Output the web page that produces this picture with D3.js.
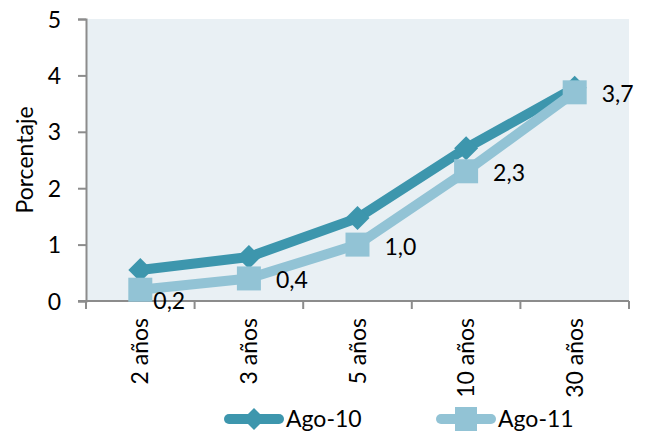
<!DOCTYPE html>
<html><head><meta charset="utf-8">
<script src="https://cdn.jsdelivr.net/npm/d3@7"></script>
<style>body{margin:0;background:#fff}svg{display:block}text{font-family:Lato,"Open Sans",sans-serif;fill:#000}</style>
</head><body><svg id="c" width="650" height="433"></svg>
<script>
const categories = ["2 años","3 años","5 años","10 años","30 años"];
const ago10 = [0.55, 0.78, 1.47, 2.71, 3.78];
const ago11 = [0.2, 0.4, 1.0, 2.3, 3.7];
const ago11Labels = ["0,2","0,4","1,0","2,3","3,7"];
const yTicks = [0,1,2,3,4,5];
const seriesNames = ["Ago-10","Ago-11"];

const svg = d3.select("#c");
const m = {l:86, r:629, t:19, b:301};
const x = d3.scaleBand().domain(categories).range([m.l, m.r]);
const y = d3.scaleLinear().domain([0,5]).range([m.b, m.t]);
const c10 = "#3d96ad", c11 = "#92c3d5", axisC = "#8c8c8c";
const fs = 23;

svg.append("rect").attr("x",m.l).attr("y",m.t).attr("width",m.r-m.l).attr("height",m.b-m.t).attr("fill","#e9f0f4");

// Y axis
const ya = svg.append("g").attr("transform",`translate(${m.l},0)`)
  .call(d3.axisLeft(y).tickValues(yTicks).tickSize(8).tickPadding(17).tickFormat(d3.format("d")));
ya.select(".domain").attr("stroke",axisC).attr("stroke-width",2);
ya.selectAll(".tick line").attr("stroke",axisC).attr("stroke-width",2);
ya.selectAll("text").attr("font-size",fs).attr("dy","0.35em").attr("font-family","Lato");

// X axis
const xa = svg.append("g").attr("transform",`translate(0,${m.b})`);
xa.append("line").attr("x1",m.l-8).attr("x2",m.r).attr("stroke",axisC).attr("stroke-width",2);
const bounds = categories.map(c=>x(c)).concat([m.r]);
xa.selectAll("line.tk").data(bounds).join("line").attr("class","tk")
  .attr("x1",d=>d).attr("x2",d=>d).attr("y1",0).attr("y2",8).attr("stroke",axisC).attr("stroke-width",2);
xa.selectAll("text").data(categories).join("text")
  .attr("transform",d=>`translate(${x(d)+x.bandwidth()/2+8},17) rotate(-90)`)
  .attr("text-anchor","end").attr("font-size",fs).text(d=>d);

// Y title
svg.append("text").attr("transform","translate(33,160) rotate(-90)").attr("text-anchor","middle")
  .attr("font-size",fs).text("Porcentaje");

const cx = d => x(d)+x.bandwidth()/2;
const line = d3.line().x((d,i)=>cx(categories[i])).y(d=>y(d));

// Ago-10
svg.append("path").datum(ago10).attr("d",line).attr("fill","none").attr("stroke",c10).attr("stroke-width",10).attr("stroke-linejoin","round");
const diamond = s => `M0,${-s}L${s},0L0,${s}L${-s},0Z`;
svg.selectAll("path.d10").data(ago10).join("path").attr("class","d10")
  .attr("transform",(d,i)=>`translate(${cx(categories[i])},${y(d)})`).attr("d",diamond(12)).attr("fill",c10);

// Ago-11
svg.append("path").datum(ago11).attr("d",line).attr("fill","none").attr("stroke",c11).attr("stroke-width",10).attr("stroke-linejoin","round");
svg.selectAll("rect.s11").data(ago11).join("rect").attr("class","s11")
  .attr("x",(d,i)=>cx(categories[i])-12).attr("y",d=>y(d)-12).attr("width",24).attr("height",24).attr("fill",c11);

// data labels
svg.selectAll("text.lbl").data(ago11).join("text").attr("class","lbl")
  .attr("x",(d,i)=>cx(categories[i])+(i===0?13:27))
  .attr("y",(d,i)=>y(d)+(i===0?11:2)).attr("dy","0.35em").attr("font-size",fs).text((d,i)=>ago11Labels[i]);

// Legend
const lg = svg.append("g");
const leg = [{n:seriesNames[0],c:c10,x:225,t:"d"},{n:seriesNames[1],c:c11,x:437,t:"s"}];
leg.forEach(l=>{
  lg.append("line").attr("x1",l.x+4).attr("x2",l.x+54).attr("y1",419).attr("y2",419).attr("stroke",l.c).attr("stroke-width",10).attr("stroke-linecap","round");
  if(l.t==="d") lg.append("path").attr("transform",`translate(${l.x+29},419)`).attr("d",diamond(11)).attr("fill",l.c);
  else lg.append("rect").attr("x",l.x+18).attr("y",407).attr("width",22).attr("height",24).attr("fill",l.c);
  lg.append("text").attr("x",l.x+61).attr("y",419).attr("dy","0.35em").attr("font-size",fs).text(l.n);
});
</script></body></html>
